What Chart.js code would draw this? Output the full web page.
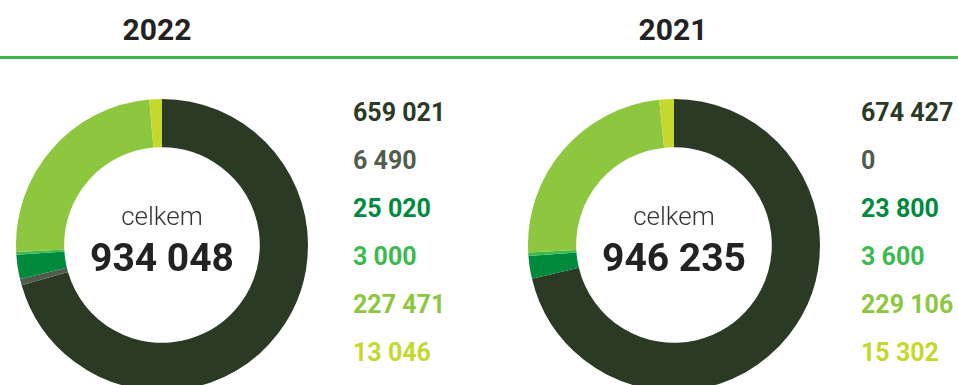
<!DOCTYPE html>
<html>
<head>
<meta charset="utf-8">
<script src="https://cdn.jsdelivr.net/npm/chart.js@4/dist/chart.umd.min.js"></script>
<style>
  html, body { margin: 0; padding: 0; background: #fff; }
  body { width: 958px; height: 385px; overflow: hidden; position: relative; font-family: Roboto, "Noto Sans", sans-serif; }
  .title { position: absolute; top: 12px; font-size: 30px; font-weight: 700; color: #222; transform: translateX(-50%); }
  .rule { position: absolute; left: 0; top: 56px; width: 958px; height: 3px; background: #3cb54a; }
  .donut { position: absolute; width: 292px; height: 292px; }
  .center { position: absolute; width: 292px; text-align: center; color: #222; }
  .center .lbl { font-size: 26px; font-weight: 300; color: #333; line-height: 1; }
  .center .tot { font-size: 39px; font-weight: 700; line-height: 1; margin-top: 10px; }
  .vals { position: absolute; top: 97px; }
  .vals div { font-size: 25px; font-weight: 700; height: 48px; line-height: 32px; }
</style>
</head>
<body>
<div class="rule"></div>
<div id="root"></div>
<script>
// Segment colours, in drawing order (clockwise from 12 o'clock)
const colors = ['#2b3a25', '#525c4d', '#008a3e', '#3dba4f', '#8dc63f', '#c4d82e'];
const years = ['2022', '2021'];
const values2022 = [659021, 6490, 25020, 3000, 227471, 13046];
const values2021 = [674427, 0, 23800, 3600, 229106, 15302];
const centerLabel = 'celkem';

const fmt = n => String(n).replace(/\B(?=(\d{3})+(?!\d))/g, ' ');

const panels = [
  { year: years[0], values: values2022, cx: 162, titleX: 157, valsX: 353 },
  { year: years[1], values: values2021, cx: 674, titleX: 673, valsX: 861 }
];
const R = 146, CY = 245;
const root = document.getElementById('root');

panels.forEach(p => {
  const t = document.createElement('div');
  t.className = 'title';
  t.style.left = p.titleX + 'px';
  t.textContent = p.year;
  root.appendChild(t);

  const wrap = document.createElement('div');
  wrap.className = 'donut';
  wrap.style.left = (p.cx - R) + 'px';
  wrap.style.top = (CY - R) + 'px';
  const cv = document.createElement('canvas');
  cv.width = 2 * R; cv.height = 2 * R;
  wrap.appendChild(cv);
  root.appendChild(wrap);

  new Chart(cv, {
    type: 'doughnut',
    data: {
      labels: p.values.map(fmt),
      datasets: [{ data: p.values, backgroundColor: colors, borderWidth: 0 }]
    },
    options: {
      responsive: false,
      animation: false,
      cutout: '67%',
      layout: { padding: 0 },
      plugins: { legend: { display: false }, tooltip: { enabled: false } }
    }
  });

  const total = p.values.reduce((a, b) => a + b, 0);
  const c = document.createElement('div');
  c.className = 'center';
  c.style.left = (p.cx - R) + 'px';
  c.style.top = '203px';
  c.innerHTML = '<div class="lbl">' + centerLabel + '</div><div class="tot">' + fmt(total) + '</div>';
  root.appendChild(c);

  const v = document.createElement('div');
  v.className = 'vals';
  v.style.left = p.valsX + 'px';
  p.values.forEach((val, k) => {
    const d = document.createElement('div');
    d.style.color = colors[k];
    d.textContent = fmt(val);
    v.appendChild(d);
  });
  root.appendChild(v);
});
</script>
</body>
</html>
